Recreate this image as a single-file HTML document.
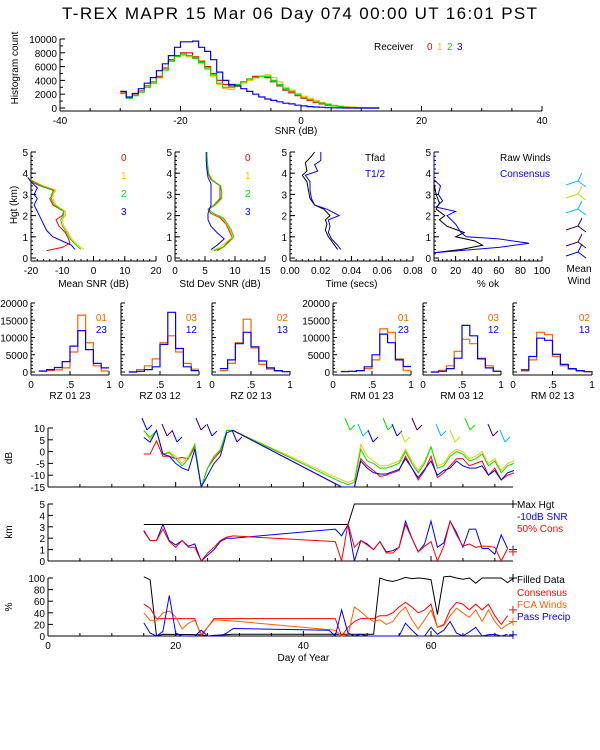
<!DOCTYPE html>
<html><head><meta charset="utf-8"><style>
html,body{margin:0;padding:0;background:#fff}
svg{display:block;font-family:"Liberation Sans",sans-serif}
text{font-size:10px}
</style></head><body>
<svg id="s" width="600" height="750" viewBox="0 0 600 750" xmlns="http://www.w3.org/2000/svg">
<rect width="600" height="750" fill="#fff"/>
<text x="62" y="19" textLength="475" style="font-size:17px">T-REX   MAPR 15 Mar 06 Day 074   00:00 UT   16:01   PST</text>
</svg>
<script>
// ---------- data ----------
const snrBins=[-30,-29,-28,-27,-26,-25,-24,-23,-22,-21,-20,-19,-18,-17,-16,-15,-14,-13,-12,-11,-10,-9,-8,-7,-6,-5,-4,-3,-2,-1,0,1,2,3,4,5,6,7,8,9,10,11,12];
const histR=[2.2,1.5,2.0,2.5,3.2,3.8,4.6,5.8,7.0,7.6,8.0,8.0,7.4,6.8,6.0,5.0,4.0,3.4,3.2,3.4,3.8,4.2,4.6,4.6,4.4,3.8,3.2,2.6,2.2,1.8,1.4,1.1,0.8,0.6,0.4,0.3,0.2,0.1,0.05,0,0,0,0];
const histY=[2.1,1.4,1.9,2.4,3.1,3.7,4.4,5.5,6.8,7.4,7.6,7.4,7.2,6.4,5.6,4.6,3.4,2.8,2.7,3.1,3.6,4.0,4.4,4.6,4.8,4.4,3.8,3.0,2.6,2.1,1.7,1.4,1.1,0.8,0.6,0.4,0.3,0.2,0.15,0.1,0.05,0.02,0];
const histG=[2.1,1.4,1.8,2.3,3.0,3.6,4.4,5.5,6.8,7.5,7.8,7.6,7.2,6.6,5.8,4.8,3.6,3.0,3.0,3.4,3.8,4.2,4.4,4.6,4.6,4.0,3.4,2.8,2.4,1.9,1.5,1.2,0.9,0.7,0.5,0.3,0.2,0.1,0.05,0,0,0,0];
const histB=[2.4,1.6,2.1,2.8,3.6,4.4,5.4,6.4,7.6,8.8,9.6,9.6,9.7,8.8,8.2,7.0,5.2,4.0,3.4,3.2,2.8,2.4,2.0,1.6,1.3,1.1,0.9,0.7,0.6,0.4,0.3,0.2,0.15,0.1,0.05,0.03,0.02,0,0,0,0,0,0];

const msnrHgtR=[0.35,0.5,0.7,0.9,1.2,1.5,1.8,2.0,2.2,2.5,2.8,3.0,3.2,3.4,3.6,3.8];
const msnrR=[-15,-10,-7.5,-8,-9,-11,-12,-10,-9.5,-13,-14,-13,-13,-17,-20,-21];
const msnrHgtY=[0.4,0.6,0.9,1.2,1.5,1.8,2.0,2.2,2.5,2.8,3.0,3.2,3.4,3.7];
const msnrY=[-3,-5,-7,-8,-9.5,-10,-9,-9,-12,-13,-13,-12,-16,-20];
const msnrG=[-4,-5.5,-7.5,-8.5,-10,-10.5,-9.5,-9.5,-12.5,-13.5,-13.5,-12.5,-16.5,-20.5];
const msnrHgtB=[0.4,0.6,0.8,1.0,1.3,1.6,1.9,2.2,2.5,2.8,3.0,3.3,3.6,3.8];
const msnrB=[-6,-7,-10,-13,-15,-16,-17,-18,-19,-18,-19,-18,-20,-21];

const sdHgt=[0.35,0.5,0.8,1.0,1.3,1.6,1.9,2.1,2.3,2.5,2.8,3.1,3.4,3.7,4.0,4.5,5.0];
const sdR=[7,8,9,9.5,9,8.5,7.5,6,5.5,6.5,7.5,7.5,7.5,6,5.5,5.3,5.3];
const sdY=[6,7.5,8.8,9.6,9.2,8.6,7.8,6.2,5.6,6.8,7.8,7.8,7.6,6.2,5.6,5.4,5.3];
const sdG=[6.5,8,9.2,9.8,9.4,8.8,8,6.4,5.6,6.6,7.7,7.8,7.6,6.1,5.6,5.4,5.3];
const sdHgtB=[0.4,0.6,0.9,1.2,1.5,1.8,2.1,2.5,3.0,3.5,3.8,4.2,4.6,5.0];
const sdB=[6,7,8.2,7,6,5.5,5.5,6,6,6,5.5,5.3,5.2,5.2];

const tHgtK=[0.4,0.6,0.8,1.0,1.3,1.6,1.8,2.0,2.3,2.5,2.8,3.2,3.6,3.9,4.1,4.5,4.8,5.0];
const tfad=[0.031,0.029,0.027,0.025,0.023,0.024,0.023,0.026,0.022,0.016,0.013,0.012,0.011,0.008,0.011,0.010,0.014,0.016];
const tHgtB=[0.4,0.6,0.9,1.2,1.5,1.8,2.0,2.3,2.5,2.8,3.2,3.6,3.9,4.1,4.4,4.6,5.0];
const thalf=[0.033,0.031,0.027,0.025,0.026,0.025,0.032,0.024,0.016,0.014,0.013,0.013,0.010,0.018,0.016,0.020,0.020];

const okHgtK=[0.25,0.4,0.6,0.8,1.0,1.2,1.5,1.8,2.0,2.3,2.6,3.0,3.5,4.0,5.0];
const okRaw=[0,25,45,38,20,28,12,5,10,2,5,2,0,0,0];
const okHgtB=[0.25,0.5,0.7,0.9,1.0,1.2,1.6,2.0,2.2,2.4,2.7,3.0,3.4,3.7,5.0];
const okCons=[0,60,88,60,30,25,20,12,20,2,8,4,6,0,0];

const pairBins=[0.1,0.2,0.3,0.4,0.5,0.6,0.7,0.8,0.9];
const pairLabels=["RZ  01  23","RZ  03  12","RZ  02  13","RM  01  23","RM  03  12","RM  02  13"];
const pairTopLbl=["01","03","02","01","03","02"];
const pairBotLbl=["23","12","13","23","12","13"];
const pairOrange=[[0.2,0.4,0.6,1.2,5.8,16.5,8.5,1.8,0.3],[0.1,0.7,1.8,3.8,8.5,10.5,5.8,2.5,0.8],[0.4,2.5,8.5,15.3,7,2.2,0.8,0.3,0.1],[0.2,0.2,0.4,1,3.5,12.5,11.5,3.8,0.5],[0,0.5,1.8,6,9.5,8.2,4,1.8,0.3],[0.3,3.5,11.5,10.8,4.5,1.8,0.8,0.3,0.1]];
const pairBlue=[[0.3,0.7,1.3,3,7.5,12,6.5,2.5,1.2],[0,0.2,0.7,1.5,8,17.3,6.8,1.5,0.4],[1,3.5,8.2,11.5,7.3,3.2,1.2,0.4,0.1],[0.1,0.2,0.4,1.5,5,11,8.5,3.5,1.6],[0,0.2,1,4,13.5,10.5,3.8,1.2,0.2],[0.6,4.5,9.8,9.2,5.1,2.2,1,0.4,0.1]];

const dbDays=[15,16,17,18,19,20,21,22,23,24,25,26,27,28,29,46,47,48,49,50,51,52,53,54,55,56,57,58,59,60,61,62,63,64,65,66,67,68,69,70,71,72,73];
const dbR=[-1,-1,4.5,-2,-2,-3,-2.5,-3,2,-15,-7,-3,0,9,9,-15,-16,-16,-3,-6,-8,-10.5,-10,-9,-8,-2,-7,-12,-8,-2,-11,-9,-6,-3,-3,-6,-5,-4,-10,-7,-12,-10,-9];
const dbY=[9,5,9,-1,0,-2,-5,-2,3,-15,-7,-2,1,9,9,-12,-13,-12,3,-2,-4,-6,-6,-5,-4,1,-4,-8,-4,2,-6,-5,-1,1,0,-3,-2,0,-5,-3,-8,-5,-4];
const dbG=[9,6,9,-1,-0.5,-3,-6,-3,3,-15,-7,-2,0.5,9,9,-13,-14,-13,1,-4,-5,-7,-7,-6,-5,0,-5,-9,-5,2,-7,-6,-2,0,-1,-4,-3,-1,-6,-4,-9,-6,-5];
const dbB=[6,4,9,-1,-2,-5,-7,-8,1,-15,-10,-5,-2,8,9,-15,-16,-16,-4,-7,-9,-9.5,-9.5,-8.5,-7.5,-3,-7,-11,-7.5,-4,-10,-8,-7,-4,-6,-7,-7,-6,-10,-8,-12,-9,-8];

const maxDays=[15,47,48,73];
const maxHgt=[3.2,3.2,5,5];
const kmDays=[15,16,17,18,19,20,21,22,23,24,25,26,27,28,29,45,46,47,48,49,50,51,52,53,54,55,56,57,58,59,60,61,62,63,64,65,66,67,68,69,70,71,72];
const kmB=[2.6,1.8,1.8,3.2,1.8,1.4,1.8,1.3,1.5,0,0.5,1,1.7,2,2,2.8,2.2,3.2,0,1.8,1.5,1,1.7,0.8,0.9,1.2,3.5,2,0.8,1.5,3.5,1.2,1.6,3.5,2.5,1.2,2.8,2.8,1.1,1.1,0.6,2.3,1.1];
const kmR=[2.7,1.8,1.8,2.8,1.7,1.2,1.8,1.2,1.2,0,0.7,1.2,1.8,2.1,2.2,1.7,0,3.3,1.2,1.8,1.4,1,1.7,0.7,0.7,1.2,3.2,2,0.8,1.3,1.7,0,1.3,3.5,2.3,1.3,1.5,1.2,1.3,1.3,1.2,0,1.1];

const filDays=[15,16,17,18,24,25,26,29,45,51,52,53,54,55,56,57,58,59,60,61,62,63,64,65,66,67,68,69,70,71,72,73];
const filled=[102,97,0,3,2,0,1,3,3,3,100,96,94,97,101,99,100,99,97,37,102,103,100,98,100,91,100,100,100,100,92,100];
const conDays=[15,16,17,18,23,24,25,26,45,46,47,48,49,51,52,53,54,55,56,57,58,59,60,61,62,63,64,65,66,67,68,69,70,71,72];
const consensus=[55,48,30,30,30,0,15,30,30,0,15,25,30,30,35,35,40,50,58,50,40,45,55,15,20,45,58,55,45,55,45,55,35,20,35];
const fcaDays=[15,16,17,18,19,20,21,22,23,24,25,26,30,45,46,47,48,49,50,51,52,53,54,55,56,57,58,59,60,61,62,63,64,65,66,67,68,69,70,71,72,73];
const fca=[40,27,27,40,43,33,12,22,27,3,15,28,25,10,0,2,50,42,32,25,28,20,25,40,50,28,12,28,45,15,18,35,48,40,32,45,25,45,25,12,20,25];
const ppDays=[15,16,17,18,19,20,21,23,24,25,26,27,28,29,44,45,46,47,48,49,50,52,53,54,55,56,57,58,59,60,61,62,63,64,65,66,67,68,69,70,71,72];
const precip=[23,5,0,8,70,5,0,0,10,0,0,0,5,13,10,0,45,5,0,3,0,0,0,0,0,22,10,0,0,15,3,10,25,5,0,7,15,0,2,3,0,3];

// ---------- helpers ----------
const S=document.getElementById('s');const NS='http://www.w3.org/2000/svg';
function el(t,a,p){const e=document.createElementNS(NS,t);for(const k in a)e.setAttribute(k,a[k]);(p||S).appendChild(e);return e;}
function txt(x,y,s,o){o=o||{};const e=el('text',{x:x,y:y,fill:o.fill||'#000','text-anchor':o.anchor||'start'});if(o.size)e.style.fontSize=o.size+'px';if(o.rot)e.setAttribute('transform','rotate(-90 '+x+' '+y+')');e.textContent=s;return e;}
function lin(d0,d1,p0,p1){return v=>p0+(v-d0)*(p1-p0)/(d1-d0);}
function poly(xs,ys,fx,fy,col,w){const pts=xs.map((v,i)=>fx(v).toFixed(1)+','+fy(ys[i]).toFixed(1)).join(' ');return el('polyline',{points:pts,fill:'none',stroke:col,'stroke-width':w||1});}
function step(bins,vals,bw,fx,fy,col){let d='';bins.forEach((b,i)=>{const x0=fx(b),x1=fx(b+bw),y=fy(vals[i]);d+=(i?'L':'M')+x0.toFixed(1)+','+y.toFixed(1)+'L'+x1.toFixed(1)+','+y.toFixed(1);});return el('path',{d:d,fill:'none',stroke:col,'stroke-width':1.2});}
function line(x1,y1,x2,y2,c){return el('line',{x1:x1,y1:y1,x2:x2,y2:y2,stroke:c||'#000','stroke-width':1});}
function yaxis(x,fy,ticks,labels,minor,len){line(x,fy(ticks[0]),x,fy(ticks[ticks.length-1]));ticks.forEach((t,i)=>{line(x,fy(t),x+(len||5),fy(t));if(labels)txt(x-3,fy(t)+4,labels[i],{anchor:'end'});});if(minor)minor.forEach(t=>line(x,fy(t),x+3,fy(t)));}
function xaxis(y,fx,ticks,labels,minor){line(fx(ticks[0]),y,fx(ticks[ticks.length-1]),y);ticks.forEach((t,i)=>{line(fx(t),y,fx(t),y-5);if(labels)txt(fx(t),y+13,labels[i],{anchor:'middle'});});if(minor)minor.forEach(t=>line(fx(t),y,fx(t),y-3));}
const RED='#ff0000',YEL='#ffc000',GRN='#00e000',BLU='#0000ff',ORA='#ff6000';

// ---------- top SNR histogram ----------
{const fx=lin(-40,40,60,542),fy=lin(0,10,108,39);
xaxis(111,fx,[-40,-20,0,20,40],['-40','-20','0','20','40'],[-35,-30,-25,-15,-10,-5,5,10,15,25,30,35]);
yaxis(60,fy,[0,2,4,6,8,10],['0','2000','4000','6000','8000','10000'],[1,3,5,7,9]);
line(60,111,60,39);
txt(296,134,'SNR (dB)',{anchor:'middle'});
txt(18,68,'Histogram count',{anchor:'middle',rot:1});
step(snrBins,histR,1,fx,fy,RED);step(snrBins,histY,1,fx,fy,YEL);step(snrBins,histG,1,fx,fy,GRN);step(snrBins,histB,1,fx,fy,BLU);
txt(374,50,'Receiver');
txt(427,50,'0',{fill:RED});txt(437,50,'1',{fill:YEL});txt(447,50,'2',{fill:GRN});txt(457,50,'3',{fill:BLU});}

// ---------- profile panels ----------
const fh=lin(0,5,258,152);
function profAxes(x0,x1,xt,xl,title){const fx=lin(xt[0],xt[xt.length-1],x0,x1);
line(x0,fh(0)+3,x0,fh(5));[0,1,2,3,4,5].forEach(h=>{line(x0,fh(h),x0+5,fh(h));txt(x0-3,fh(h)+4,String(h),{anchor:'end'});});
for(let h=0.2;h<5;h+=0.2){line(x0,fh(h),x0+2,fh(h));}
const yb=fh(0)+3;line(x0,yb,x1,yb);xt.forEach((t,i)=>{line(fx(t),yb,fx(t),yb-5);txt(fx(t),yb+13,xl[i],{anchor:'middle'});});
const n=(xt.length-1)*5;for(let i=0;i<=n;i++){const xx=x0+(x1-x0)*i/n;line(xx,yb,xx,yb-2);}
txt((x0+x1)/2,yb+26,title,{anchor:'middle'});return fx;}
{const fx=profAxes(31,156,[-20,-10,0,10,20],['-20','-10','0','10','20'],'Mean SNR (dB)');
txt(17,205,'Hgt (km)',{anchor:'middle',rot:1});
poly(msnrR,msnrHgtR,fx,fh,RED);poly(msnrY,msnrHgtY,fx,fh,YEL);poly(msnrG,msnrHgtY,fx,fh,GRN);poly(msnrB,msnrHgtB,fx,fh,BLU);
txt(121,161,'0',{fill:RED});txt(121,179,'1',{fill:YEL});txt(121,197,'2',{fill:GRN});txt(121,215,'3',{fill:BLU});}
{const fx=profAxes(175,265,[0,5,10,15],['0','5','10','15'],'Std Dev SNR (dB)');
poly(sdR,sdHgt,fx,fh,RED);poly(sdY,sdHgt,fx,fh,YEL);poly(sdG,sdHgt,fx,fh,GRN);poly(sdB,sdHgtB,fx,fh,BLU);
txt(245,161,'0',{fill:RED});txt(245,179,'1',{fill:YEL});txt(245,197,'2',{fill:GRN});txt(245,215,'3',{fill:BLU});}
{const fx=profAxes(290,413,[0,0.02,0.04,0.06,0.08],['0.00','0.02','0.04','0.06','0.08'],'Time (secs)');
poly(tfad,tHgtK,fx,fh,'#000');poly(thalf,tHgtB,fx,fh,BLU);
txt(365,161,'Tfad');txt(365,177,'T1/2',{fill:BLU});}
{const fx=profAxes(434,542,[0,20,40,60,80,100],['0','20','40','60','80','100'],'% ok');
poly(okRaw,okHgtK,fx,fh,'#000');poly(okCons,okHgtB,fx,fh,BLU);
txt(500,161,'Raw Winds');txt(500,177,'Consensus',{fill:BLU});
txt(579,272,'Mean',{anchor:'middle'});txt(579,284,'Wind',{anchor:'middle'});
[['#00c0ff',185],['#c0e000',198],['#00c0ff',213],['#400060',230],['#400060',246],['#0000ff',256]].forEach(b=>{line(566,b[1],578,b[1]-4,b[0]);line(578,b[1]-4,582,b[1]-12,b[0]);line(578,b[1]-4,586,b[1]+2,b[0]);});}

// ---------- pair histograms ----------
{const fy=lin(0,20,372,303);
const xs=[[31,109],[121,199],[212,290],[333,411],[423,501],[513,592]];
xs.forEach((p,k)=>{const fx=lin(0,1,p[0],p[1]);
line(p[0],375,p[1],375);line(p[0],375,p[0],303);
[0,0.5,1].forEach((t,i)=>{txt(fx(t),388,['0','.5','1'][i],{anchor:'middle'});line(fx(t),375,fx(t),371);});
for(let v=0;v<=20;v+=1){line(p[0],fy(v),p[0]+(v%5?2:4),fy(v));}
if(k==0||k==3){[0,5,10,15,20].forEach(v=>txt(p[0]-3,fy(v)+4,String(v*1000),{anchor:'end'}));}
txt((p[0]+p[1])/2,399,pairLabels[k],{anchor:'middle'});
step(pairBins,pairOrange[k],0.1,fx,fy,ORA);step(pairBins,pairBlue[k],0.1,fx,fy,BLU);
txt(p[1]-2,321,pairTopLbl[k],{fill:ORA,anchor:'end'});txt(p[1]-2,333,pairBotLbl[k],{fill:BLU,anchor:'end'});});}

// ---------- time series ----------
const fd=lin(0,60,48,431);
function tsAxes(y0,y1,fy,ticks,labels,ttl,ty){line(48,y0,513,y0);line(48,y0,48,y1);
ticks.forEach((t,i)=>{line(48,fy(t),53,fy(t));txt(45,fy(t)+4,labels[i],{anchor:'end'});});
for(let d=0;d<=72;d+=5){line(fd(d),y0,fd(d),y0-(d%20?3:5));}
txt(12,ty,ttl,{anchor:'middle',rot:1});}
{const fy=lin(-15,10,487,428);
tsAxes(487,428,fy,[-15,-10,-5,0,5,10],['-15','-10','-5','0','5','10'],'dB',458);
const cl=v=>Math.max(-15,Math.min(10,v));
poly(dbDays,dbR.map(cl),fd,fy,RED);poly(dbDays,dbY.map(cl),fd,fy,YEL);poly(dbDays,dbG.map(cl),fd,fy,GRN);poly(dbDays,dbB.map(cl),fd,fy,BLU);
// wind barbs (decorative)
const barbs=[[142,'#0000ff'],[162,'#400060'],[172,'#0000ff'],[196,'#400060'],[207,'#0000ff'],[232,'#0000ff'],[345,'#00e000'],[358,'#00c0ff'],[368,'#0000ff'],[383,'#00e000'],[392,'#0000ff'],[400,'#c0e000'],[412,'#400060'],[436,'#00c0ff'],[450,'#c0e000'],[465,'#00e000'],[488,'#400060'],[500,'#00c0ff']];
barbs.forEach((b,i)=>{const y=418+(i%3)*6;line(b[0],y,b[0]+5,y+12,b[1]);line(b[0]+5,y+12,b[0]+10,y+7,b[1]);});}
{const fy=lin(0,5,561,504);
tsAxes(561,504,fy,[0,1,2,3,4,5],['0','1','2','3','4','5'],'km',532);
poly(maxDays,maxHgt,fd,fy,'#000');poly(kmDays,kmB,fd,fy,BLU);poly(kmDays,kmR,fd,fy,RED);
txt(517,508,'Max Hgt');txt(517,520,'-10dB SNR',{fill:BLU});txt(517,532,'50% Cons',{fill:RED});
line(509,fy(5),517,fy(5));line(513,fy(5)-4,513,fy(5)+4);
line(509,fy(1),517,fy(1),BLU);line(513,fy(1)-4,513,fy(1)+4,BLU);line(509,fy(0.8),517,fy(0.8),RED);line(513,fy(0.8)-4,513,fy(0.8)+4,RED);}
{const fy=lin(0,100,636,578);
tsAxes(636,578,fy,[0,20,40,60,80,100],['0','20','40','60','80','100'],'%',607);
poly(filDays,filled,fd,fy,'#000');poly(conDays,consensus,fd,fy,RED);poly(fcaDays,fca,fd,fy,ORA);poly(ppDays,precip,fd,fy,BLU);
txt(517,583,'Filled Data');txt(517,596,'Consensus',{fill:RED});txt(517,608,'FCA Winds',{fill:ORA});txt(517,620,'Pass Precip',{fill:BLU});
[[100,'#000'],[45,RED],[25,ORA],[2,BLU]].forEach(m=>{line(509,fy(m[0]),517,fy(m[0]),m[1]);line(513,fy(m[0])-4,513,fy(m[0])+4,m[1]);});
[0,20,40,60].forEach(d=>txt(fd(d),649,String(d),{anchor:'middle'}));
txt(fd(40),661,'Day of Year',{anchor:'middle'});}
</script>
</body></html>
